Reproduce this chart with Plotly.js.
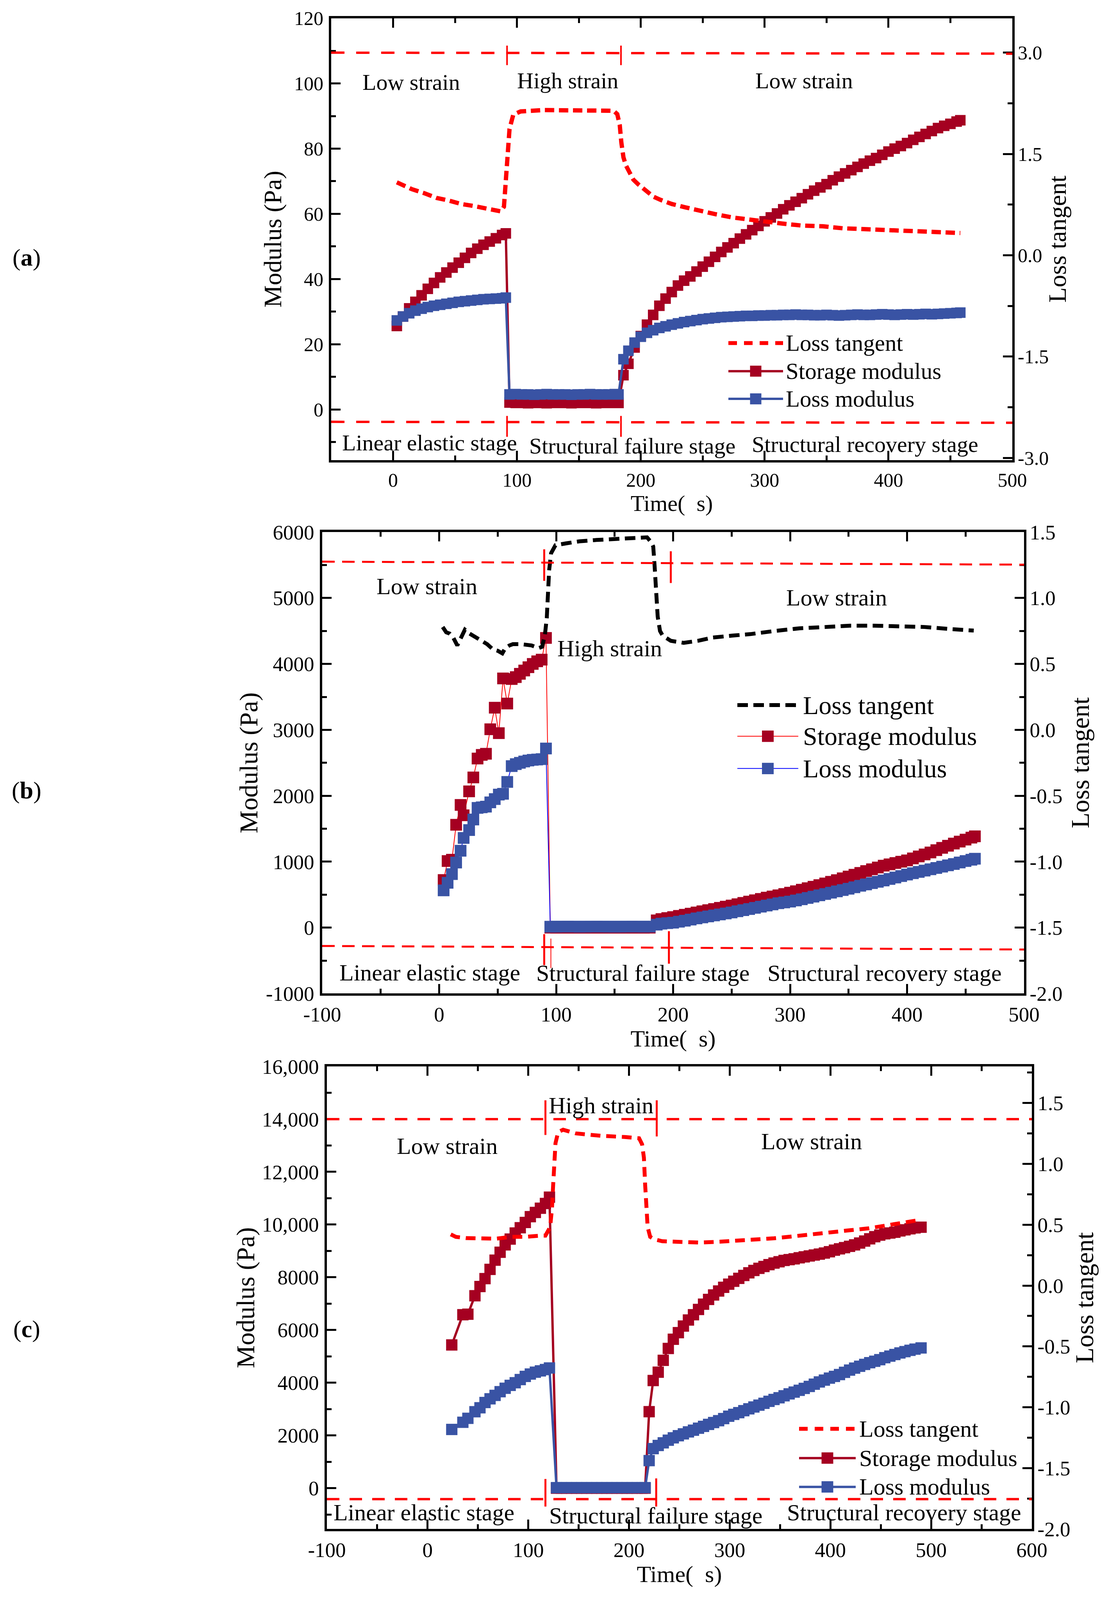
<!DOCTYPE html>
<html><head><meta charset="utf-8">
<script src="https://cdn.plot.ly/plotly-3.0.1.min.js"></script>
<style>html,body{margin:0;padding:0;background:#fff;overflow:hidden}</style>
</head><body><div id="chart"></div>
<script>
// ---------- Panel (a) ----------
const timeA = [3,8,13,18,23,28,33,38,43,48,53,58,63,68,73,78,83,88,91,
 94,99,104,109,114,119,124,129,134,139,144,149,154,159,164,169,174,179,182,
 186,190,195,200,205,210,215,220,225,230,235,240,245,250,255,260,265,270,275,280,
 285,290,295,300,305,310,315,320,325,330,335,340,345,350,355,360,365,370,375,380,
 385,390,395,400,405,410,415,420,425,430,435,440,445,450,455,458];
const storageA = [25.6,28.5,31,33,35,37,38.8,40.5,42,43.5,45,46.5,48,49.3,50.5,51.5,52.5,53.5,54,
 2.1,2,2,1.9,2,2,1.9,2,2,2,1.9,2,2,2,1.9,2,2,2,2,
 10.5,14,19,22.5,26,29,31.8,34,36,38, 39.5,40.8,42.3,43.8,45.3,46.8,48.3,49.7,51,52.4,
 53.7,55,56.3,57.7,58.9,60.1,61.4,62.6,63.7,64.8, 66,67.1,68.1,69.1,70.3,71.4,72.4,73.4,74.4,75.4,
 76.3,77.1,78.1,79.1,80,80.8,81.7,82.7,83.6,84.5, 85.4,86.3,87,87.6,88.3,88.7];
const lossA = [27.3,28.5,29.5,30.3,30.9,31.4,31.8,32.1,32.4,32.7,33,33.2,33.4,33.6,33.8,33.9,34,34.1,34.3,
 4.6,4.7,4.6,4.6,4.5,4.6,4.7,4.6,4.6,4.6,4.5,4.6,4.6,4.7,4.6,4.6,4.6,4.7,4.6,
 15.4,18,20.5,22.3,23.5,24.3,25,25.5,26,26.4, 26.8,27.1,27.4,27.7,27.9,28.1,28.3,28.4,28.5,28.6,
 28.7,28.7,28.8,28.8,28.9,28.9,29,29,29.1,29, 29,28.9,28.9,29,28.9,28.8,28.9,29,29.1,29,
 29,29.1,29.2,29.1,29,29.1,29.2,29.1,29.2,29.3, 29.2,29.3,29.4,29.5,29.6,29.7];
const tanTimeA = [3,10,15,25,35,45,55,65,77,87,89.5,91,92.7,94,97,103,121,150,178,181,
 183,184.3,186,188,190,194,198,204,210,216,225,236,247,260,274,286,298,314,330,347,
 363,381,397,415,429,445,458];
const tanA = [1.08,1.02,0.98,0.92,0.85,0.81,0.76,0.73,0.69,0.65,0.72,1.16,1.61,1.87,2.08,2.13,2.15,2.15,2.14,2.09,
 1.93,1.67,1.45,1.33,1.25,1.12,1.05,0.95,0.87,0.82,0.76,0.71,0.66,0.61,0.56,0.53,0.50,0.47,0.44,0.43,
 0.40,0.385,0.37,0.35,0.34,0.34,0.33];

// ---------- Panel (b) ----------
const timeB = [3.8,7.2,10.9,14.5,18.3,20.9,25.6,29.2,32.8,36.4,40,43.7,47.5,51,54.6,58.2,62,65.5,69,72.7,76.3,80,83.8,87.6,91.3,
 95,100,105,110,115,120,125,130,135,140,145,150,155,160,165,170,175,180,
 186,190,195,200,205,210,215,220,225,230,235,240,245,250,255,260,265,270,275,280,
 285,290,295,300,305,310,315,320,325,330,335,340,345,350,355,360,365,370,375,380,
 385,390,395,400,405,410,415,420,425,430,435,440,445,450,455,458];
const storageB = [722,1010,1030,1560,1861,1704,2067,2278,2565,2620,2637,3009,3336,2950,3780,3399,3771,3800,3850,3900,3950,4000,4040,4065,4394,
 0,0,0,0,0,0,0,0,0,0,0,0,0,0,0,0,0,0,
 110,130,145,160,178,195,212,230,248,265, 282,300,318,335,355,375,395,415,435,455,
 472,490,510,530,552,575,598,620,645,670, 695,720,748,775,802,830,858,885,912,940,
 960,980,1000,1020,1050,1080,1110,1140,1175,1210, 1242,1275,1305,1335,1365,1385];
const lossB = [565,680,812,987,1166,1360,1480,1640,1816,1825,1835,1900,1950,2018,2030,2210,2450,2480,2500,2520,2535,2545,2550,2556,2717,
 14,15,15,16,15,14,15,15,16,15,15,14,15,15,16,15,15,15,
 45,60,68,75,90,105,122,140,155,170, 185,200,215,230,248,265,282,300,318,335,
 352,370,382,395,412,430,450,470,490,510, 530,550,570,590,612,635,655,675,695,715,
 738,760,782,805,825,845,865,885,905,925, 945,965,988,1010,1030,1045];
const tanTimeB = [3,6,9,12,15.5,18.5,22,26,30,36,41,46,50,54,56.5,60,63,70,79,85,
 88,90.4,92,93,94,95.7,99.4,109,120,134.5,156,170,177.7,181.5,183,184.2,185.3,186.8,188.8,191,
 198,209,221,234,251,266,287,308,330,351,372,394,415,436,457];
const tanB = [0.78,0.74,0.73,0.70,0.64,0.69,0.76,0.73,0.71,0.68,0.65,0.61,0.60,0.58,0.62,0.64,0.65,0.65,0.64,0.62,
 0.63,0.72,0.85,1.03,1.21,1.34,1.40,1.415,1.43,1.44,1.45,1.46,1.46,1.42,1.39,1.24,1.05,0.86,0.75,0.715,
 0.675,0.66,0.675,0.70,0.715,0.726,0.75,0.77,0.78,0.79,0.79,0.787,0.78,0.765,0.753];

// ---------- Panel (c) ----------
const timeC = [24,35,40,47,52,57,62,67,72,77,82,87,92,97,102,107,112,117,121,
 128,133,138,143,148,153,158,163,168,173,178,183,188,193,198,203,208,213,216,
 220,224,229,234,239,244,249,254,259,264,269,274,279,284,289,294,299,304,309,314,319,324,
 329,334,339,344,349,354,359,364,369,374,379,384,389,394,399,404,409,414,419,424,
 429,434,439,444,449,454,459,464,469,474,479,484,490];
const storageC = [5434,6580,6600,7300,7650,7950,8300,8650,8950,9230,9450,9680,9880,10080,10300,10460,10620,10800,11040,
 0,0,0,0,0,0,0,0,0,0,0,0,0,0,0,0,0,0,0,
 2902,4084, 4400,4850,5300,5650,5900,6150,6380,6580,6780,6980,
 7160,7330,7480,7620,7740,7850,7960,8070,8170,8260, 8340,8410,8480,8540,8590,8640,8670,8700,8740,8775,
 8810,8845,8880,8920,8970,9030,9080,9125,9175,9230, 9300,9375,9460,9540,9600,9650,9680,9710,9760,9800,
 9840,9875,9900];
const lossC = [2228,2500,2650,2900,3050,3250,3390,3520,3660,3790,3900,4000,4120,4240,4330,4400,4450,4500,4560,
 20,20,20,20,20,20,20,20,20,20,20,20,20,20,20,20,20,20,20,
 1046,1500, 1620,1720,1820,1910,1990,2060,2135,2200,2275,2345,
 2420,2490,2560,2640,2730,2800,2865,2940,3010,3080, 3150,3220,3295,3365,3430,3505,3578,3645,3713,3785,
 3860,3945,4030,4100,4175,4240,4310,4395,4480,4555, 4625,4695,4760,4815,4875,4950,5010,5070,5130,5180,
 5230,5275,5320];
const tanTimeC = [23,28,38,53,68,83,97,112,117,121.7,123.5,124.7,126,127,129.6,134.6,147,172,196,210,
 213,214.8,216,217.3,218.5,221,225,233,250,270,290,310,324,344,364,384,401,418,438,456,473,488];
const tanC = [0.42,0.40,0.39,0.39,0.385,0.40,0.40,0.41,0.41,0.48,0.635,0.83,1.02,1.17,1.26,1.28,1.25,1.23,1.22,1.21,
 1.16,1.05,0.83,0.635,0.48,0.40,0.38,0.364,0.356,0.353,0.36,0.369,0.373,0.388,0.405,0.42,0.436,0.453,0.47,0.495,0.514,0.538];

// ---------- tick labels ----------
const xTicksA = [0,100,200,300,400,500];
const xTextA = ['0','100','200','300','400','500'];
const yTicksA = [0,20,40,60,80,100,120];
const yTextA = ['0','20','40','60','80','100','120'];
const y2TicksA = [-3,-1.5,0,1.5,3];
const y2TextA = ['-3.0','-1.5','0.0','1.5','3.0'];
const xTicksB = [-100,0,100,200,300,400,500];
const xTextB = ['-100','0','100','200','300','400','500'];
const yTicksB = [-1000,0,1000,2000,3000,4000,5000,6000];
const yTextB = ['-1000','0','1000','2000','3000','4000','5000','6000'];
const y2TicksB = [-2,-1.5,-1,-0.5,0,0.5,1,1.5];
const y2TextB = ['-2.0','-1.5','-1.0','-0.5','0.0','0.5','1.0','1.5'];
const xTicksC = [-100,0,100,200,300,400,500,600];
const xTextC = ['-100','0','100','200','300','400','500','600'];
const yTicksC = [0,2000,4000,6000,8000,10000,12000,14000,16000];
const yTextC = ['0','2000','4000','6000','8000','10,000','12,000','14,000','16,000'];
const y2TicksC = [-2,-1.5,-1,-0.5,0,0.5,1,1.5];
const y2TextC = ['-2.0','-1.5','-1.0','-0.5','0.0','0.5','1.0','1.5'];

const seriesNames = ['Loss tangent','Storage modulus','Loss modulus'];

// ---------- styling ----------
// positions are given in reference pixels (2837 x 4216) and mapped to paper fractions,
// so the whole figure fits the actual viewport.
const RW = 2837, RH = 4216;
const W = window.innerWidth || RW, H = window.innerHeight || RH;
document.getElementById('chart').style.width = W + 'px';
document.getElementById('chart').style.height = H + 'px';
const PX = v => v / RW, PY = v => 1 - v / RH;
const FONT = 'Liberation Serif, Times New Roman, serif';
const STORE = '#A50021', LOSS = '#3953A4', RED = '#FF0000';

function xAx(dom, range, anchor, tv, tt, fs, minorD, tfs) {
  return {domain: dom, range: range, anchor: anchor, tickmode: 'array', tickvals: tv, ticktext: tt,
    ticks: 'inside', ticklen: 24, tickwidth: 5, tickcolor: '#000', showline: true, linewidth: 6,
    linecolor: '#000', mirror: 'ticks', showgrid: false, zeroline: false, automargin: false,
    ticklabelstandoff: 2,
    minor: {ticks: 'inside', ticklen: 12, tickwidth: 5, tickcolor: '#000', dtick: minorD, tick0: 0},
    tickfont: {family: FONT, size: fs, color: '#000'},
    title: {text: 'Time(\u00a0\u00a0s)', font: {family: FONT, size: tfs, color: '#000'}, standoff: 0}};
}
function yAx(dom, range, anchor, tv, tt, fs, minorD, tfs, standoff) {
  return {domain: dom, range: range, anchor: anchor, side: 'left', tickmode: 'array', tickvals: tv, ticktext: tt,
    ticks: 'inside', ticklen: 24, tickwidth: 5, tickcolor: '#000', showline: true, linewidth: 6,
    linecolor: '#000', showgrid: false, zeroline: false, automargin: false, ticklabelstandoff: 4,
    minor: {ticks: 'inside', ticklen: 12, tickwidth: 5, tickcolor: '#000', dtick: minorD, tick0: 0},
    tickfont: {family: FONT, size: fs, color: '#000'},
    title: {text: 'Modulus (Pa)', font: {family: FONT, size: tfs, color: '#000'}, standoff: standoff}};
}
function y2Ax(over, range, anchor, tv, tt, fs, minorD, tfs, standoff) {
  return {overlaying: over, range: range, anchor: anchor, side: 'right', tickmode: 'array', tickvals: tv, ticktext: tt,
    ticks: 'inside', ticklen: 24, tickwidth: 5, tickcolor: '#000', showline: true, linewidth: 6,
    linecolor: '#000', showgrid: false, zeroline: false, automargin: false, ticklabelstandoff: -2,
    minor: {ticks: 'inside', ticklen: 12, tickwidth: 5, tickcolor: '#000', dtick: minorD, tick0: 0},
    tickfont: {family: FONT, size: fs, color: '#000'},
    title: {text: 'Loss tangent', font: {family: FONT, size: tfs, color: '#000'}, standoff: standoff}};
}

const domXA = [PX(848), PX(2592)], domYA = [PY(1212), PY(48)];
const domXB = [PX(825), PX(2622)], domYB = [PY(2618), PY(1402)];
const domXC = [PX(837), PX(2642)], domYC = [PY(4029), PY(2810)];

function modTrace(x, y, xa, ya, name, lineColor, lineW, markColor, size) {
  return {type: 'scatter', mode: 'lines+markers', x: x, y: y, xaxis: xa, yaxis: ya, name: name,
    line: {color: lineColor, width: lineW}, marker: {symbol: 'square', size: size, color: markColor, line: {width: 0}}};
}
function tanTrace(x, y, xa, ya, color, w, dash) {
  return {type: 'scatter', mode: 'lines', x: x, y: y, xaxis: xa, yaxis: ya, name: seriesNames[0],
    line: {color: color, width: w, dash: dash}};
}

const traces = [
  modTrace(timeA, storageA, 'x', 'y', seriesNames[1], STORE, 6, STORE, 27),
  modTrace(timeA, lossA, 'x', 'y', seriesNames[2], LOSS, 6, LOSS, 27),
  tanTrace(tanTimeA, tanA, 'x', 'y2', RED, 11, '24px,12px'),
  modTrace(timeB, storageB, 'x2', 'y3', seriesNames[1], RED, 2, STORE, 30),
  modTrace(timeB, lossB, 'x2', 'y3', seriesNames[2], '#0000FF', 2, LOSS, 30),
  tanTrace(tanTimeB, tanB, 'x2', 'y4', '#000', 10, '27px,14px'),
  modTrace(timeC, storageC, 'x3', 'y5', seriesNames[1], STORE, 6, STORE, 29),
  modTrace(timeC, lossC, 'x3', 'y5', seriesNames[2], LOSS, 6, LOSS, 29),
  tanTrace(tanTimeC, tanC, 'x3', 'y6', RED, 10, '25px,15px')
];

const shapes = [];
const annotations = [];
function seg(xref, yref, x0, y0, x1, y1, color, w, dash) {
  shapes.push({type: 'line', xref: xref, yref: yref, x0: x0, y0: y0, x1: x1, y1: y1,
    line: {color: color, width: w, dash: dash || 'solid'}});
}
function txt(xref, yref, x, y, text, size, xanchor) {
  annotations.push({xref: xref, yref: yref, x: x, y: y, text: text, showarrow: false,
    xanchor: xanchor || 'center', yanchor: 'middle', font: {family: FONT, size: size, color: '#000'}});
}

// Panel (a) decorations
seg('x domain', 'y2', 0, 3.0, 1, 2.985, RED, 6, '34px,30px');
seg('x domain', 'y', 0, -3.8, 1, -4.1, RED, 6, '34px,30px');
seg('x', 'y', 92, 105.6, 92, 111.6, RED, 4);
seg('x', 'y', 184, 105.6, 184, 111.6, RED, 4);
seg('x', 'y', 92, -2, 92, -8.4, RED, 4);
seg('x', 'y', 184, -2, 184, -8.4, RED, 4);
txt('x', 'y', 14.5, 100.4, 'Low strain', 58);
txt('x', 'y', 141, 100.8, 'High strain', 58);
txt('x', 'y', 332, 100.8, 'Low strain', 58);
txt('x', 'y', 29.4, -10.2, 'Linear elastic stage', 58);
txt('x', 'y', 193.3, -11.2, 'Structural failure stage', 58);
txt('x', 'y', 381, -10.7, 'Structural recovery stage', 58);

// Panel (b) decorations
seg('x2 domain', 'y3', 0, 5551, 1, 5506, RED, 5, '32px,19px');
seg('x2 domain', 'y3', 0, -278, 1, -332, RED, 5, '32px,19px');
seg('x2', 'y3', 89.8, 5260, 89.8, 5739, RED, 5);
seg('x2', 'y3', 198, 5228, 198, 5708, RED, 5);
seg('x2', 'y3', 89.8, -99, 89.8, -569, RED, 5);
seg('x2', 'y3', 95.5, -166, 95.5, -614, RED, 2);
seg('x2', 'y3', 196.4, -54, 196.4, -547, RED, 5);
txt('x2', 'y3', -10.4, 5179, 'Low strain', 60);
txt('x2', 'y3', 145.8, 4237, 'High strain', 60);
txt('x2', 'y3', 339.8, 5004, 'Low strain', 60);
txt('x2', 'y3', -7.9, -682, 'Linear elastic stage', 60);
txt('x2', 'y3', 174.2, -690, 'Structural failure stage', 60);
txt('x2', 'y3', 380.9, -690, 'Structural recovery stage', 60);

// Panel (c) decorations
seg('x3 domain', 'y5', 0, 14000, 1, 14000, RED, 6, '32px,26px');
seg('x3 domain', 'y5', 0, -416, 1, -416, RED, 6, '32px,26px');
seg('x3', 'y5', 117, 13399, 117, 14715, RED, 5);
seg('x3', 'y5', 227.5, 13343, 227.5, 14715, RED, 5);
seg('x3', 'y5', 117, 349, 117, -697, RED, 5);
seg('x3', 'y5', 227, 371, 227, -697, RED, 5);
txt('x3', 'y5', 172.3, 14512, 'High strain', 60);
txt('x3', 'y5', 19.3, 12971, 'Low strain', 60);
txt('x3', 'y5', 381.3, 13162, 'Low strain', 60);
txt('x3', 'y5', -3.5, -922, 'Linear elastic stage', 60);
txt('x3', 'y5', 226.4, -1035, 'Structural failure stage', 60);
txt('x3', 'y5', 473.3, -922, 'Structural recovery stage', 60);

// Legends (drawn as layout decorations)
function legend(rows, x0, x1, tx, fs, tanColor, tanDash, sLine, lLine, lineW, sq) {
  seg('paper', 'paper', PX(x0), PY(rows[0]), PX(x1), PY(rows[0]), tanColor, 10, tanDash);
  seg('paper', 'paper', PX(x0), PY(rows[1]), PX(x1), PY(rows[1]), sLine, lineW);
  seg('paper', 'paper', PX(x0), PY(rows[2]), PX(x1), PY(rows[2]), lLine, lineW);
  const cx = (x0 + x1) / 2;
  [[rows[1], STORE], [rows[2], LOSS]].forEach(function (r) {
    shapes.push({type: 'rect', xref: 'paper', yref: 'paper', x0: PX(cx - sq / 2), x1: PX(cx + sq / 2),
      y0: PY(r[0] + sq / 2), y1: PY(r[0] - sq / 2), fillcolor: r[1], line: {width: 0}});
  });
  for (let i = 0; i < 3; i++) txt('paper', 'paper', PX(tx), PY(rows[i]), seriesNames[i], fs, 'left');
}
legend([904, 978, 1051], 1865, 2005, 2010, 59, RED, '22px,18px', STORE, LOSS, 6, 29);
legend([1858, 1940, 2025], 1888, 2044, 2054, 66, '#000', '27px,14px', RED, '#0000FF', 2, 30);
legend([3765, 3842, 3918], 2046, 2191, 2198, 60, RED, '22px,18px', STORE, LOSS, 6, 30);

// Panel labels
txt('paper', 'paper', PX(68), PY(679), '(<b>a</b>)', 62);
txt('paper', 'paper', PX(68), PY(2083), '(<b>b</b>)', 62);
txt('paper', 'paper', PX(68), PY(3502), '(<b>c</b>)', 62);

const layout = {
  width: W, height: H, margin: {l: 0, r: 0, t: 0, b: 0}, paper_bgcolor: '#fff', plot_bgcolor: '#fff',
  showlegend: false, font: {family: FONT, color: '#000'},
  xaxis: xAx(domXA, [-50, 500], 'y', xTicksA, xTextA, 50, 50, 58),
  yaxis: yAx(domYA, [-15.5, 120], 'x', yTicksA, yTextA, 50, 10, 64, 14),
  yaxis2: y2Ax('y', [-3.03, 3.51], 'x', y2TicksA, y2TextA, 50, 0.75, 64, 2),
  xaxis2: xAx(domXB, [-100, 500], 'y3', xTicksB, xTextB, 53, 50, 60),
  yaxis3: yAx(domYB, [-1000, 6000], 'x2', yTicksB, yTextB, 53, 500, 66, 2),
  yaxis4: y2Ax('y3', [-2, 1.5], 'x2', y2TicksB, y2TextB, 53, 0.25, 66, 24),
  xaxis3: xAx(domXC, [-100, 600], 'y5', xTicksC, xTextC, 53, 50, 60),
  yaxis5: yAx(domYC, [-1550, 16000], 'x3', yTicksC, yTextC, 53, 1000, 66, 0),
  yaxis6: y2Ax('y5', [-2, 1.8], 'x3', y2TicksC, y2TextC, 53, 0.25, 66, 0),
  shapes: shapes, annotations: annotations
};
Plotly.newPlot('chart', traces, layout, {staticPlot: true, displayModeBar: false});
</script></body></html>
